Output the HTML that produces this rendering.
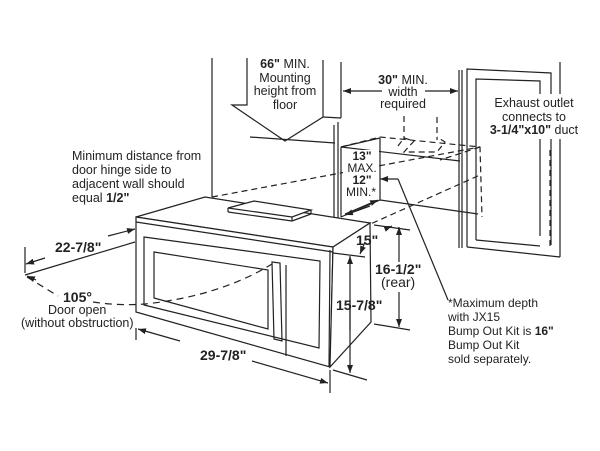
<!DOCTYPE html>
<html><head><meta charset="utf-8"><style>
html,body{margin:0;padding:0;background:#fff;}
svg{display:block;}
text{font-family:"Liberation Sans",Arial,sans-serif;fill:#222;}
.b{font-weight:bold;}
</style></head><body>
<svg width="600" height="451" viewBox="0 0 600 451" xmlns="http://www.w3.org/2000/svg">
<defs>
<marker id="a" markerWidth="8" markerHeight="6" refX="8" refY="3" orient="auto" markerUnits="userSpaceOnUse"><path d="M0,0 L8,3 L0,6 z" fill="#222"/></marker>
</defs>
<g stroke="#222" stroke-width="1.2" fill="none">
<line x1="212" y1="58" x2="212" y2="197"/>
<polyline points="247,58 247,105 232,105 285,141 323,117 323,60"/>
<line x1="250" y1="137" x2="335" y2="143"/>
<line x1="341" y1="62" x2="341" y2="118"/>
<line x1="323" y1="117" x2="341" y2="118"/>
<line x1="334" y1="125" x2="334" y2="218"/>
<line x1="338" y1="122" x2="338" y2="218"/>
<line x1="341" y1="147" x2="341" y2="217"/>
<line x1="341" y1="147" x2="380" y2="138"/>
<line x1="341" y1="147" x2="460" y2="161"/>
<line x1="459" y1="70" x2="459" y2="248"/>
<line x1="462" y1="70" x2="462" y2="248"/>
<polyline points="467,247 467,69 551,73 551,245"/>
<polyline points="476,240 476,79 540,81 540,236"/>
<line x1="467" y1="247" x2="560" y2="257"/>
<line x1="476" y1="240" x2="540" y2="246"/>
<line x1="560" y1="62" x2="560" y2="257"/>
<line x1="382" y1="91" x2="343" y2="91" marker-end="url(#a)"/>
<line x1="425" y1="91" x2="458" y2="91" marker-end="url(#a)"/>
<g stroke-dasharray="6,4">
<polyline points="341,147 380,137 480,147 482,217"/>
<line x1="480" y1="147" x2="440" y2="160"/>
<line x1="404" y1="116" x2="404" y2="140"/>
<line x1="437" y1="117" x2="437" y2="140"/>
<polyline points="398,146 404,138 414,141 404,152 437,152 445,142 437,137"/>
<line x1="212" y1="197" x2="480" y2="147"/>
<line x1="290" y1="260" x2="480" y2="175"/>
<line x1="550" y1="150" x2="550" y2="250"/>
</g>
<line x1="380" y1="138" x2="380" y2="200"/>
<line x1="380" y1="200" x2="478" y2="214"/>
<line x1="341" y1="217" x2="380" y2="200"/>
<polyline points="398,179 380,179" marker-end="url(#a)"/>
<polyline points="398,179 448,300"/>
<line x1="345" y1="214" x2="378" y2="200" marker-end="url(#a)"/>
<line x1="370" y1="206" x2="345" y2="215" marker-end="url(#a)"/>
<polygon points="136,217 205,197 370,223 333,247" fill="#fff"/>
<polygon points="136,217 333,247 330,367 136,312" fill="#fff"/>
<polygon points="333,247 370,223 371,322 330,367" fill="#fff"/>
<line x1="136" y1="222" x2="333" y2="252"/>
<line x1="330" y1="250" x2="329" y2="367"/>
<polygon points="144,237 320,261 319,348 144,305"/>
<polygon points="154,252 268,270 268,329 154,298" />
<polygon points="272,262 280,263 282,341 274,339"/>
<line x1="286" y1="265" x2="286" y2="356"/>
<polygon points="228,208 254,201 311,210 292,217" fill="#fff"/>
<line x1="228" y1="208" x2="228" y2="212"/><line x1="228" y1="212" x2="292" y2="221"/><line x1="292" y1="217" x2="292" y2="221"/><line x1="292" y1="221" x2="311" y2="214"/><line x1="311" y1="210" x2="311" y2="214"/>
<path d="M27,277 Q45,288 58,296" stroke-dasharray="7,5"/>
<path d="M93,302 Q120,306 145,304 Q220,296 272,264" stroke-dasharray="7,5"/>
<line x1="25" y1="247" x2="25" y2="273"/>
<line x1="25" y1="275" x2="135" y2="242"/>
<line x1="45" y1="258" x2="26" y2="264" marker-end="url(#a)"/>
<line x1="108" y1="236" x2="135" y2="229" marker-end="url(#a)"/>
<line x1="36" y1="280" x2="27" y2="276" marker-end="url(#a)"/>
<line x1="136" y1="328" x2="136" y2="340"/>
<line x1="330" y1="370" x2="330" y2="393"/>
<line x1="180" y1="341" x2="138" y2="329" marker-end="url(#a)"/>
<line x1="252" y1="361" x2="328" y2="383" marker-end="url(#a)"/>
<line x1="333" y1="370" x2="367" y2="380"/>
<line x1="333" y1="253" x2="365" y2="257"/>
<line x1="350" y1="330" x2="350" y2="256" marker-end="url(#a)"/>
<line x1="350" y1="300" x2="350" y2="373" marker-end="url(#a)"/>
<line x1="374" y1="225" x2="410" y2="230"/>
<line x1="374" y1="324" x2="410" y2="330"/>
<line x1="399" y1="262" x2="399" y2="227" marker-end="url(#a)"/>
<line x1="399" y1="292" x2="399" y2="327" marker-end="url(#a)"/>
<line x1="387" y1="228" x2="392" y2="226" marker-end="url(#a)"/>
<line x1="365" y1="242" x2="360" y2="254" marker-end="url(#a)"/>
</g>
<rect x="486" y="94" width="98" height="45" fill="#fff"/>
<text x="285" y="68" text-anchor="middle" font-size="12.5"><tspan class="b">66"</tspan> MIN.</text>
<text x="285" y="82" text-anchor="middle" font-size="12.5">Mounting</text>
<text x="285" y="95" text-anchor="middle" font-size="12.5">height from</text>
<text x="285" y="109" text-anchor="middle" font-size="12.5">floor</text>
<text x="403" y="84" text-anchor="middle" font-size="12.5"><tspan class="b">30"</tspan> MIN.</text>
<text x="403" y="96" text-anchor="middle" font-size="12.5">width</text>
<text x="403" y="108" text-anchor="middle" font-size="12.5">required</text>
<text x="534" y="107" text-anchor="middle" font-size="12.5">Exhaust outlet</text>
<text x="534" y="121" text-anchor="middle" font-size="12.5">connects to</text>
<text x="534" y="134" text-anchor="middle" font-size="12.5"><tspan class="b">3-1/4"x10"</tspan> duct</text>
<text x="72" y="160" font-size="12.5">Minimum distance from</text>
<text x="72" y="174" font-size="12.5">door hinge side to</text>
<text x="72" y="188" font-size="12.5">adjacent wall should</text>
<text x="72" y="202" font-size="12.5">equal <tspan class="b">1/2"</tspan></text>
<rect x="343" y="150" width="36" height="48" fill="#fff"/>
<text x="362" y="160" text-anchor="middle" font-size="12" class="b">13"</text>
<text x="362" y="172" text-anchor="middle" font-size="12">MAX.</text>
<text x="362" y="184" text-anchor="middle" font-size="12" class="b">12"</text>
<text x="361" y="196" text-anchor="middle" font-size="12">MIN.*</text>
<text x="55" y="252" font-size="14" class="b">22-7/8"</text>
<text x="63" y="302" font-size="14" class="b">105°</text>
<text x="48" y="314" font-size="12.5">Door open</text>
<text x="21" y="327" font-size="12.5">(without obstruction)</text>
<text x="200" y="360" font-size="14" class="b">29-7/8"</text>
<text x="356" y="245" font-size="14" class="b">15"</text>
<text x="375" y="274" font-size="14" class="b">16-1/2"</text>
<text x="381" y="287" font-size="14">(rear)</text>
<text x="336" y="310" font-size="14" class="b">15-7/8"</text>
<text x="448" y="307" font-size="12">*Maximum depth</text>
<text x="448" y="321" font-size="12">with JX15</text>
<text x="448" y="335" font-size="12">Bump Out Kit is <tspan class="b">16"</tspan></text>
<text x="448" y="349" font-size="12">Bump Out Kit</text>
<text x="448" y="363" font-size="12">sold separately.</text>
</svg>
</body></html>
